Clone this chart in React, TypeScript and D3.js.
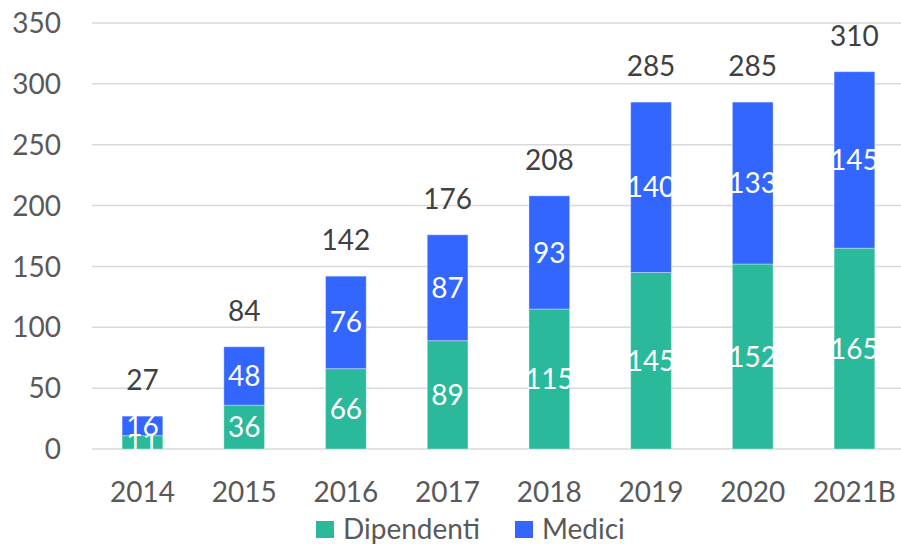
import React from 'react'
import { scaleBand, scaleLinear } from 'd3'

// values
const years = ['2014', '2015', '2016', '2017', '2018', '2019', '2020', '2021B']
const dipendenti = [11, 36, 66, 89, 115, 145, 152, 165]
const medici = [16, 48, 76, 87, 93, 140, 133, 145]
const totals = [27, 84, 142, 176, 208, 285, 285, 310]
const yTicks = [0, 50, 100, 150, 200, 250, 300, 350]
const seriesNames = ['Dipendenti', 'Medici']

const GREEN = '#2ab99a'
const BLUE = '#3366ff'
const FONT = 'Lato, "Open Sans", sans-serif'

export default function App() {
  const width = 901
  const height = 544

  const x = scaleBand<string>()
    .domain(years)
    .range([91.6, 905.3])
    .paddingInner(0.6)
    .paddingOuter(0.3)

  const y = scaleLinear().domain([0, 350]).range([449, 23])
  const bw = x.bandwidth()

  return (
    <svg
      width={width}
      height={height}
      style={{ position: 'absolute', left: 0, top: 0, background: '#fff' }}
      fontFamily={FONT}
    >
      {/* grid */}
      {yTicks.map(t => (
        <line key={'g' + t} x1={92} x2={901} y1={y(t)} y2={y(t)} stroke="#d9d9d9" strokeWidth={1.5} />
      ))}
      {yTicks.map(t => (
        <text key={'t' + t} x={61} y={y(t)} dy="0.36em" textAnchor="end" fontSize={28} fill="#595959">
          {t}
        </text>
      ))}

      {/* dipendenti */}
      {years.map((yr, i) => (
        <rect key={'d' + yr} x={x(yr)} width={bw} y={y(dipendenti[i])} height={y(0) - y(dipendenti[i])}
          fill={GREEN} stroke="#ffffff" strokeOpacity={0.35} strokeWidth={1} />
      ))}
      {years.map((yr, i) => (
        <text key={'dl' + yr} x={x(yr)! + bw / 2} y={(y(0) + y(dipendenti[i])) / 2} dy="0.36em"
          textAnchor="middle" fontSize={28} fill="#ffffff">
          {dipendenti[i]}
        </text>
      ))}

      {/* medici */}
      {years.map((yr, i) => (
        <rect key={'m' + yr} x={x(yr)} width={bw} y={y(totals[i])} height={y(dipendenti[i]) - y(totals[i])}
          fill={BLUE} stroke="#ffffff" strokeOpacity={0.35} strokeWidth={1} />
      ))}
      {years.map((yr, i) => (
        <text key={'ml' + yr} x={x(yr)! + bw / 2} y={(y(dipendenti[i]) + y(totals[i])) / 2} dy="0.36em"
          textAnchor="middle" fontSize={28} fill="#ffffff">
          {medici[i]}
        </text>
      ))}

      {/* totals */}
      {years.map((yr, i) => (
        <text key={'tot' + yr} x={x(yr)! + bw / 2} y={y(totals[i]) - 26}
          textAnchor="middle" fontSize={28} fill="#404040">
          {totals[i]}
        </text>
      ))}

      {/* x labels */}
      {years.map(yr => (
        <text key={'x' + yr} x={x(yr)! + bw / 2} y={502} textAnchor="middle" fontSize={28} fill="#595959">
          {yr}
        </text>
      ))}

      {/* legend */}
      {seriesNames.map((name, i) => {
        const lx = i === 0 ? 316 : 515
        return (
          <g key={name}>
            <rect x={lx} y={521} width={18} height={17} fill={i === 0 ? GREEN : BLUE} />
            <text x={lx + 27} y={539} fontSize={28} fill="#595959">{name}</text>
          </g>
        )
      })}
    </svg>
  )
}
